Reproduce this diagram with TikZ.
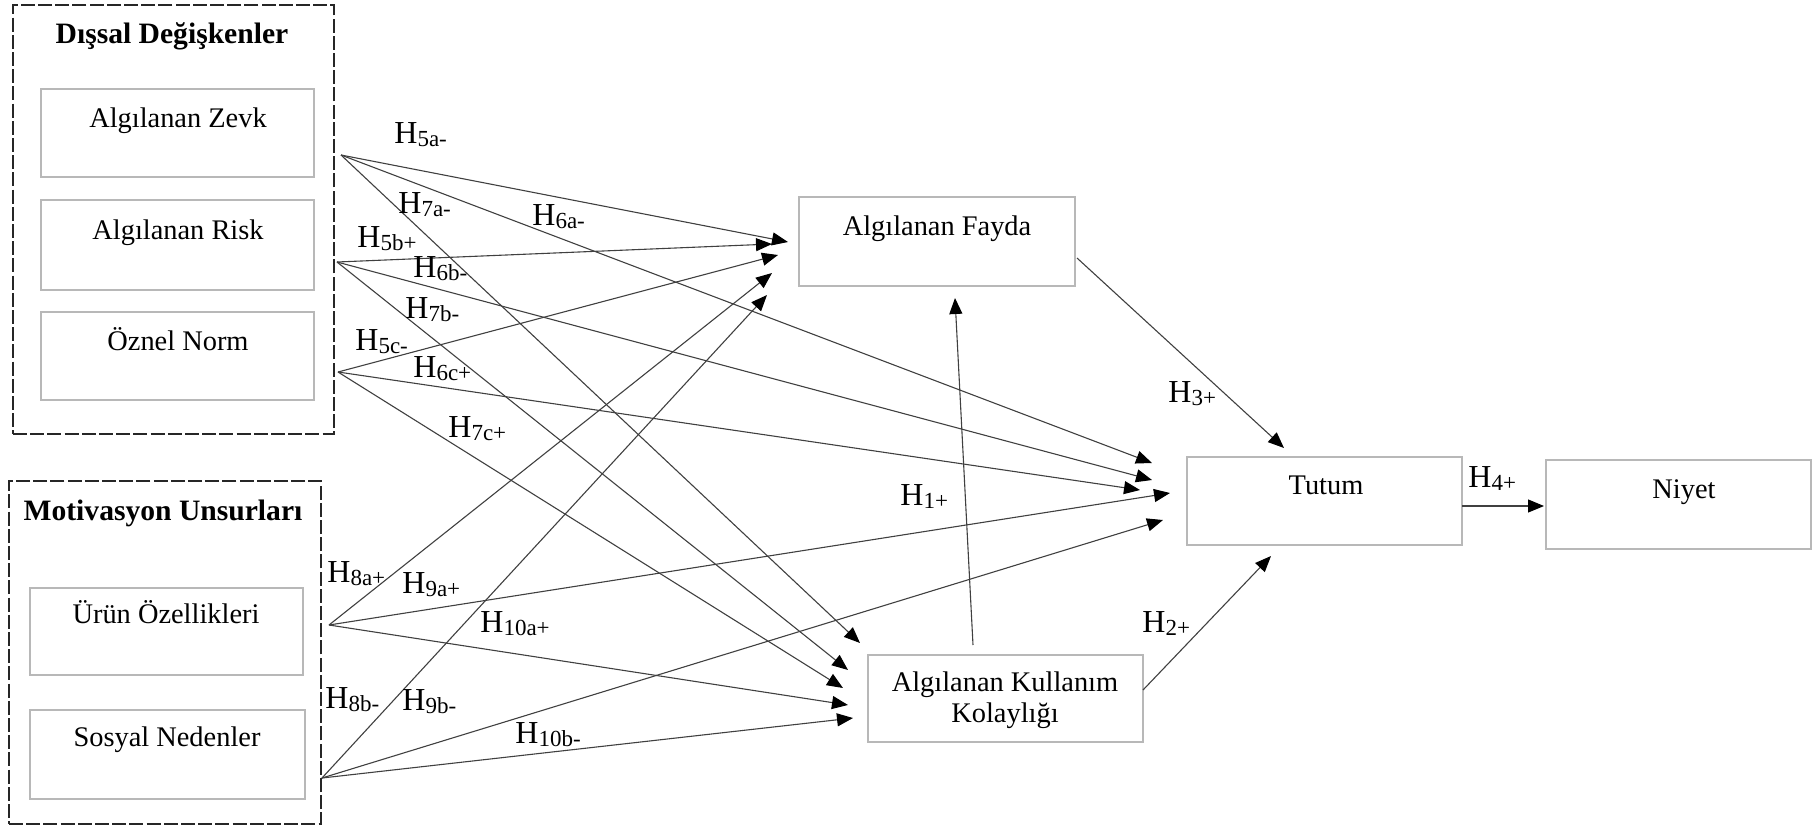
\documentclass[tikz,border=0pt]{standalone}
\usepackage{fontspec}
\setmainfont{Liberation Serif}
\usetikzlibrary{arrows.meta}
% hypothesis label: large H with a lowered, smaller index
\newcommand\Hsub[1]{H\raisebox{-1.6pt}{\fontsize{11.5}{12}\selectfont #1}}
\begin{document}
\begin{tikzpicture}[x=0.5pt,y=-0.5pt,
  box/.style={draw=black!28, line width=0.6pt, inner sep=0pt, outer sep=0pt, anchor=north west},
  group/.style={draw=black!85, line width=1pt, dash pattern=on 7pt off 1.6pt, inner sep=0pt, anchor=north west},
  txt/.style={anchor=base, inner sep=0pt, font=\fontsize{14.2}{16}\selectfont},
  ttl/.style={anchor=base, inner sep=0pt, font=\fontsize{14.8}{17}\selectfont\bfseries},
  hyp/.style={anchor=base west, inner sep=0pt, font=\fontsize{16}{16}\selectfont},
  arr/.style={draw=black!75, line width=0.55pt, -{Triangle[length=8pt,width=6.5pt,color=black,fill=black]}},
]
\useasboundingbox (0,0) rectangle (1814,825);

% ---- group frames ----
\node[group, minimum width=160.5pt, minimum height=214.5pt] (dissal) at (12,4) {};
\node[group, minimum width=156pt, minimum height=171.5pt] (motiv) at (8,480) {};
\node[ttl] (tdissal) at (172,43) {Dışsal Değişkenler};
\node[ttl] (tmotiv) at (163,520) {Motivasyon Unsurları};

% ---- construct boxes ----
\node[box, minimum width=136.5pt, minimum height=44pt] (zevk) at (41,89) {};
\node[box, minimum width=136.5pt, minimum height=45pt] (risk) at (41,200) {};
\node[box, minimum width=136.5pt, minimum height=44pt] (norm) at (41,312) {};
\node[box, minimum width=136.5pt, minimum height=43.5pt] (urun) at (30,588) {};
\node[box, minimum width=137.5pt, minimum height=44.5pt] (sosyal) at (30,710) {};
\node[box, minimum width=138pt, minimum height=44.5pt] (fayda) at (799,197) {};
\node[box, minimum width=137.5pt, minimum height=43.5pt] (kolay) at (868,655) {};
\node[box, minimum width=137.5pt, minimum height=44pt] (tutum) at (1187,457) {};
\node[box, minimum width=132.5pt, minimum height=44.5pt] (niyet) at (1546,460) {};

\node[txt] (lzevk) at (178,127) {Algılanan Zevk};
\node[txt] (lrisk) at (178,239) {Algılanan Risk};
\node[txt] (lnorm) at (178,350) {Öznel Norm};
\node[txt] (lurun) at (166,623) {Ürün Özellikleri};
\node[txt] (lsosyal) at (167,746) {Sosyal Nedenler};
\node[txt] (lfayda) at (937,235) {Algılanan Fayda};
\node[txt] (lkolay1) at (1005,691) {Algılanan Kullanım};
\node[txt] (lkolay2) at (1005,722) {Kolaylığı};
\node[txt] (ltutum) at (1326,494) {Tutum};
\node[txt] (lniyet) at (1684,498) {Niyet};

% ---- connector end points ----
\coordinate (sZ) at (341,155);
\coordinate (sR) at (337,262);
\coordinate (sO) at (338,372);
\coordinate (sU) at (329,625);
\coordinate (sS) at (322,778);
% into Algılanan Fayda
\coordinate (fZ) at (788,242);
\coordinate (fR) at (772,244);
\coordinate (fO) at (778,255);
\coordinate (fU) at (772,273);
\coordinate (fS) at (767,295);
% into Tutum
\coordinate (tZ) at (1152,463);
\coordinate (tR) at (1152,480);
\coordinate (tO) at (1140,490);
\coordinate (tU) at (1170,493);
\coordinate (tS) at (1163,520);
% into Algılanan Kullanım Kolaylığı
\coordinate (kZ) at (860,643);
\coordinate (kR) at (848,670);
\coordinate (kO) at (843,688);
\coordinate (kU) at (848,705);
\coordinate (kS) at (853,718);
% main paths
\coordinate (h1s) at (973,645);
\coordinate (h1e) at (955,298);
\coordinate (h2s) at (1143,690);
\coordinate (h2e) at (1271,556);
\coordinate (h3s) at (1077,258);
\coordinate (h3e) at (1284,448);
\coordinate (h4s) at (1462,506);
\coordinate (h4e) at (1544,506);

% ---- connectors ----
\foreach \s in {Z,R,O,U,S} {
  \draw[arr] (s\s) -- (f\s);
  \draw[arr] (s\s) -- (t\s);
  \draw[arr] (s\s) -- (k\s);
}
\draw[arr] (h1s) -- (h1e);
\draw[arr] (h2s) -- (h2e);
\draw[arr] (h3s) -- (h3e);
\draw[arr] (h4s) -- (h4e);

% ---- hypothesis labels ----
\node[hyp] (h5a) at (394,143) {\Hsub{5a-}};
\node[hyp] (h7a) at (398,213) {\Hsub{7a-}};
\node[hyp] (h6a) at (532,225) {\Hsub{6a-}};
\node[hyp] (h5b) at (357,247) {\Hsub{5b+}};
\node[hyp] (h6b) at (413,277) {\Hsub{6b-}};
\node[hyp] (h7b) at (405,318) {\Hsub{7b-}};
\node[hyp] (h5c) at (355,350) {\Hsub{5c-}};
\node[hyp] (h6c) at (413,377) {\Hsub{6c+}};
\node[hyp] (h7c) at (448,437) {\Hsub{7c+}};
\node[hyp] (h8a) at (327,582) {\Hsub{8a+}};
\node[hyp] (h9a) at (402,593) {\Hsub{9a+}};
\node[hyp] (h10a) at (480,632) {\Hsub{10a+}};
\node[hyp] (h8b) at (325,708) {\Hsub{8b-}};
\node[hyp] (h9b) at (402,710) {\Hsub{9b-}};
\node[hyp] (h10b) at (515,743) {\Hsub{10b-}};
\node[hyp] (h1) at (900,505) {\Hsub{1+}};
\node[hyp] (h2) at (1142,632) {\Hsub{2+}};
\node[hyp] (h3) at (1168,402) {\Hsub{3+}};
\node[hyp] (h4) at (1468,487) {\Hsub{4+}};
\end{tikzpicture}
\end{document}
